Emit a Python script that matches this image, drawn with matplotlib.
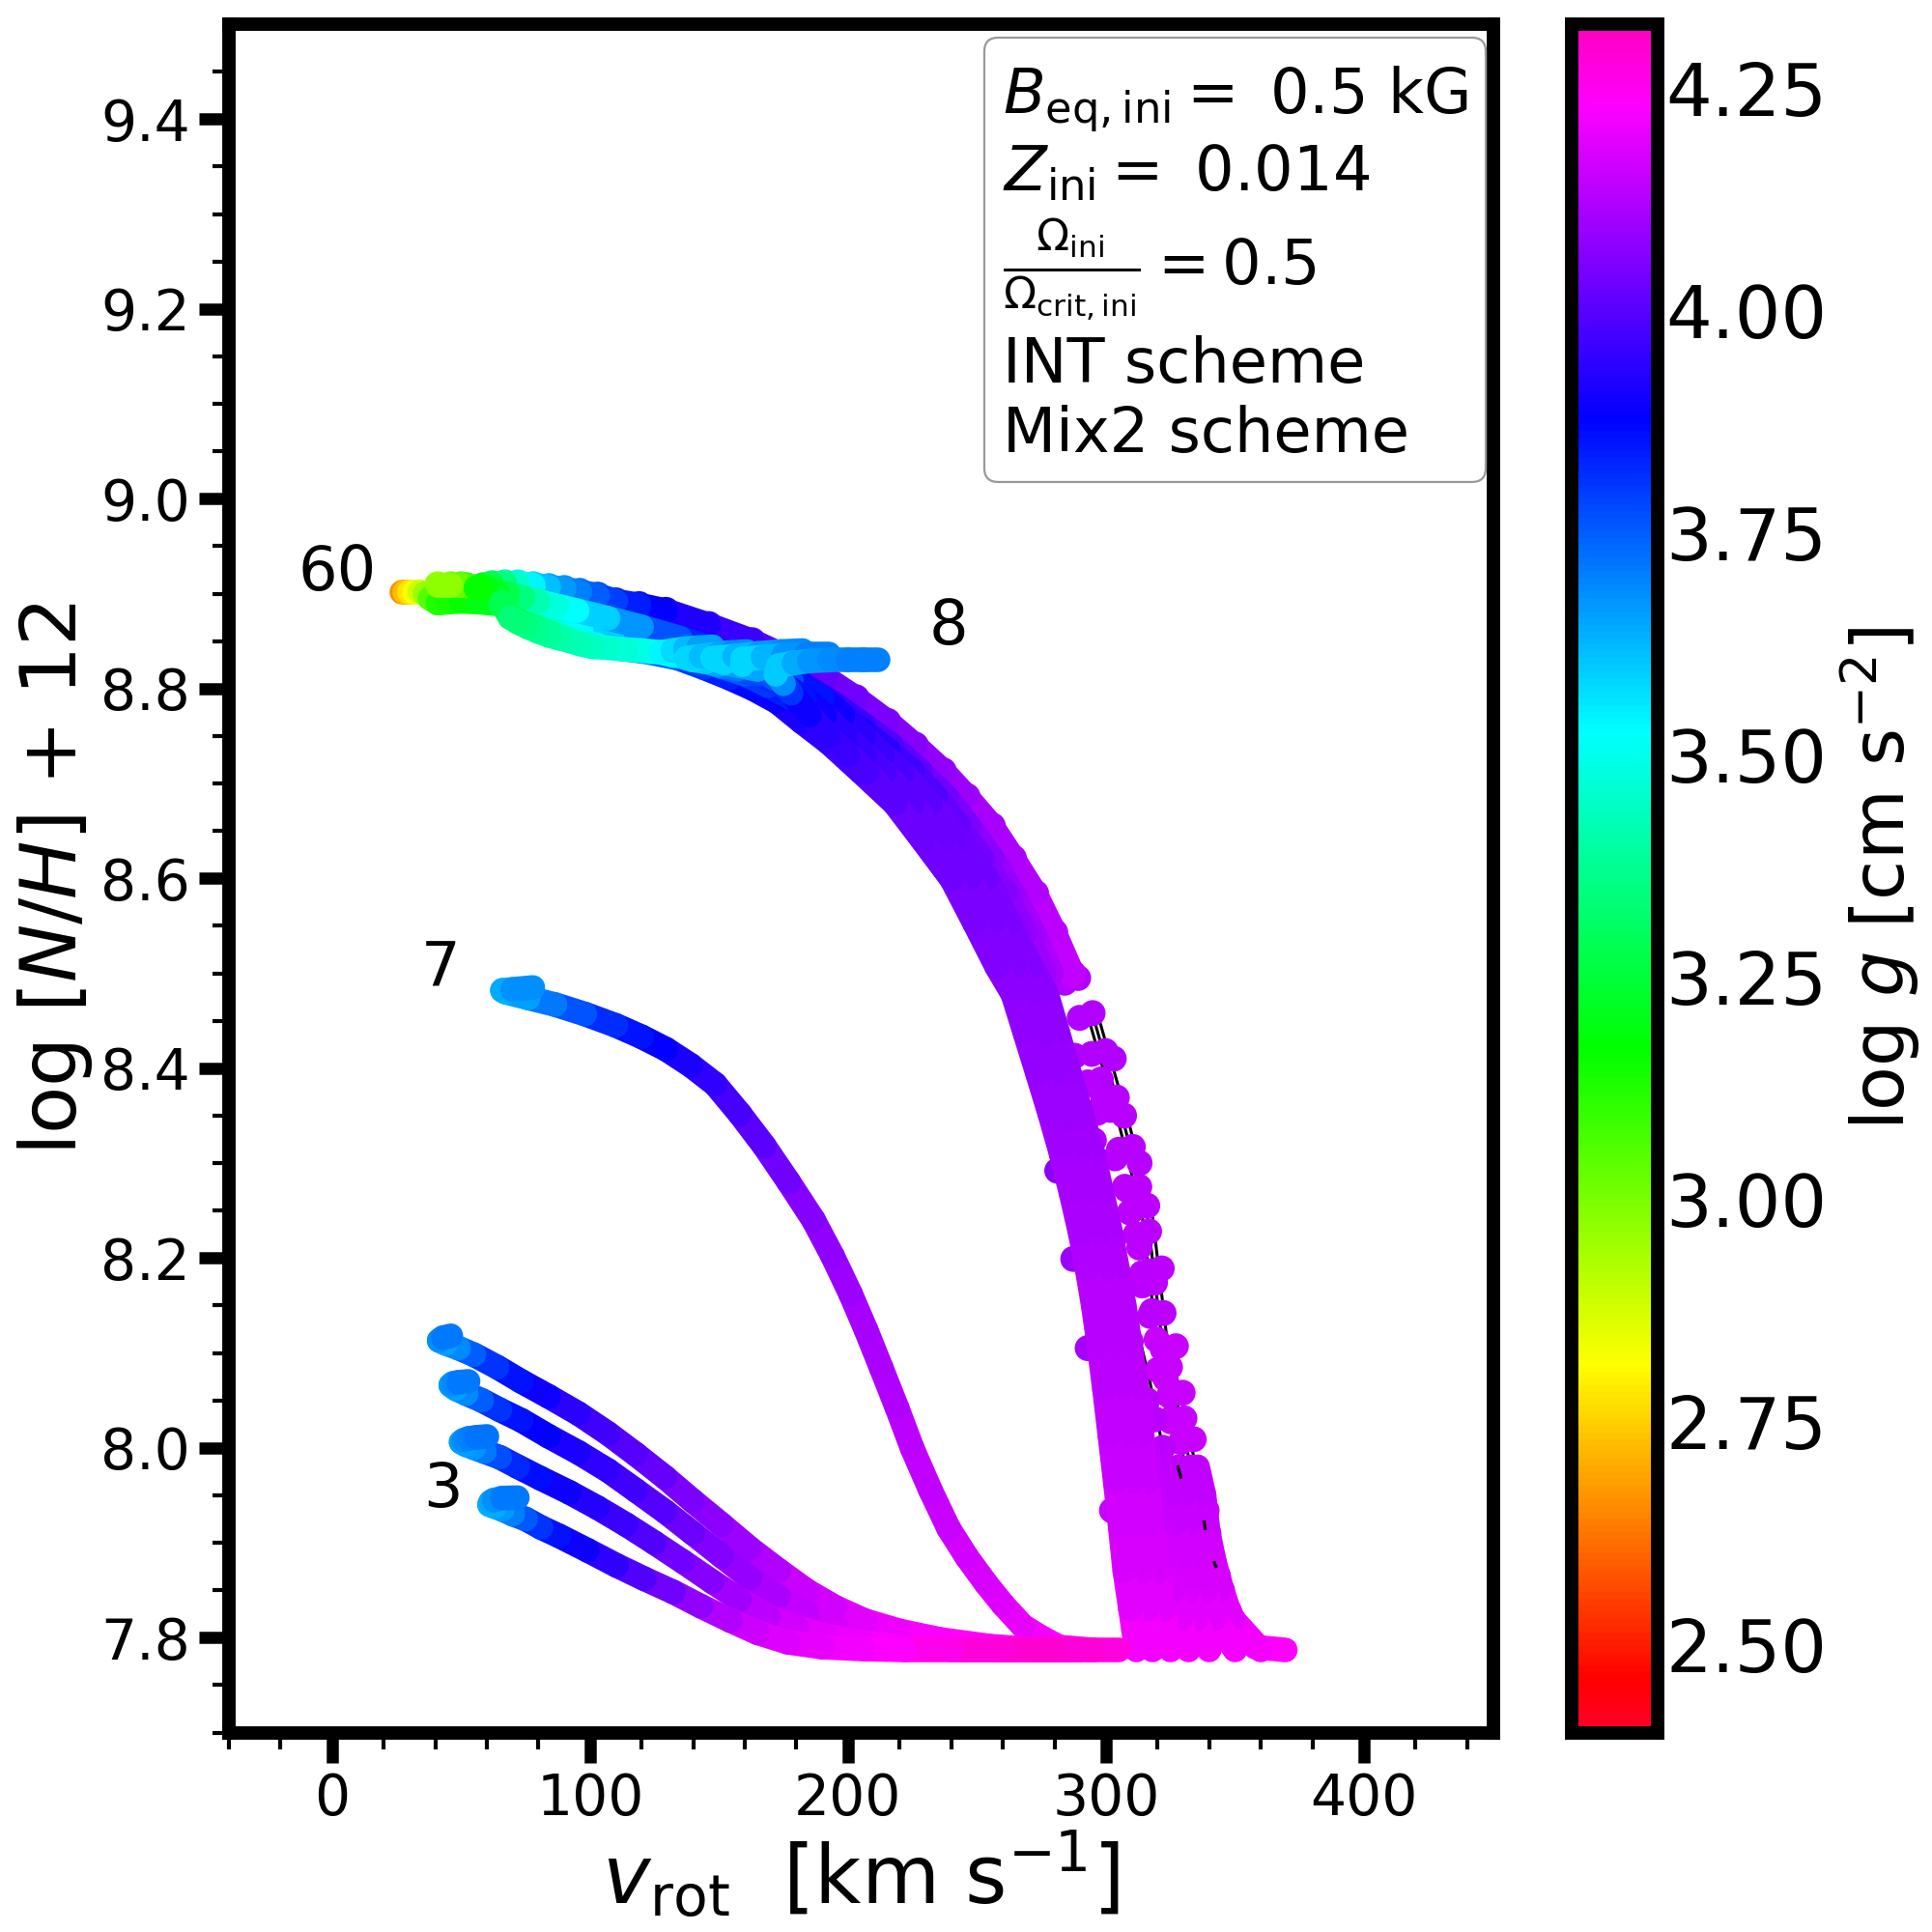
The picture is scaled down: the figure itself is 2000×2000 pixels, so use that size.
import numpy as np
import matplotlib
matplotlib.use("Agg")
import matplotlib.pyplot as plt
from matplotlib.collections import LineCollection
from matplotlib.colors import Normalize
from matplotlib.cm import ScalarMappable
from matplotlib.patches import FancyBboxPatch

# tracks: vrot [km/s], log N/H + 12, log g
v60 = [272,265,257,249,240,231,221,210,199,188,176,162,148,133,118,106,95,86,78,71,65,57,50,45,41,38,36,34,32,30,28,27]
n60 = [8.5,8.543,8.584,8.621,8.655,8.686,8.713,8.74,8.762,8.785,8.805,8.822,8.835,8.845,8.855,8.864,8.872,8.877,8.882,8.886,8.889,8.891,8.892,8.891,8.89,8.895,8.9,8.902,8.902,8.902,8.902,8.902]
g60 = [4.1,4.09,4.08,4.06,4.04,4.02,4.0,3.97,3.94,3.91,3.88,3.84,3.8,3.72,3.62,3.56,3.5,3.43,3.35,3.28,3.22,3.18,3.15,3.13,3.12,3.0,2.92,2.85,2.8,2.76,2.7,2.62]

v50 = [286.9,280,272.6,264,255.8,246,236.8,226,215.3,203,191.4,177,162.8,146,129.4,119,110,103,96,90,84,78,72,67,62,58.5,55.7,52,50,46,41]
n50 = [8.5,8.543,8.584,8.621,8.655,8.686,8.713,8.74,8.765,8.79,8.811,8.832,8.85,8.867,8.882,8.888,8.892,8.898,8.902,8.905,8.907,8.909,8.911,8.911,8.91,8.908,8.906,8.908,8.909,8.909,8.909]
g50 = [4.15,4.14,4.13,4.12,4.11,4.1,4.08,4.07,4.06,4.04,4.03,4.01,3.98,3.94,3.9,3.86,3.82,3.77,3.72,3.68,3.65,3.58,3.5,3.4,3.3,3.22,3.15,3.1,3.05,3.0,2.95]

v40 = [279,272,264,256,247,238,228,217,206,194,182,166,150,135,120,107,95,87,80,74,68,64,60,57.5,55.7]
n40 = [8.5,8.543,8.584,8.621,8.655,8.686,8.713,8.74,8.762,8.785,8.805,8.825,8.84,8.853,8.865,8.874,8.882,8.887,8.892,8.896,8.9,8.902,8.905,8.905,8.906]
g40 = [4.12,4.11,4.09,4.08,4.06,4.04,4.02,4.0,3.97,3.95,3.92,3.9,3.86,3.8,3.72,3.63,3.55,3.5,3.45,3.38,3.3,3.25,3.2,3.17,3.16]

v30 = [240,229,218,205,192.5,182,172.5,163,154,144,134,123,112,103,95,90,85,80,75,72,69,67,65.7]
n30 = [8.6,8.64,8.679,8.712,8.743,8.765,8.786,8.8,8.811,8.822,8.832,8.838,8.842,8.846,8.85,8.854,8.858,8.863,8.868,8.872,8.875,8.884,8.891]
g30 = [4.04,4.03,4.02,3.99,3.96,3.93,3.9,3.88,3.86,3.82,3.78,3.72,3.65,3.58,3.5,3.45,3.4,3.35,3.3,3.27,3.25,3.27,3.3]

v20 = [127.5,120,114.1,107,100.8,96,92.4,88,84.1,80,75.7,72,69]
n20 = [8.838,8.84,8.841,8.843,8.844,8.847,8.85,8.853,8.856,8.86,8.865,8.87,8.875]
g20 = [3.52,3.5,3.48,3.46,3.45,3.43,3.42,3.41,3.4,3.38,3.36,3.34,3.33]

v15 = [269,262,255,245.5,236,227,218,208.5,199,188.5,178,169,160,151,143,137,132,127.5,132,137,142,147.5]
n15 = [8.5,8.543,8.584,8.621,8.655,8.686,8.713,8.735,8.755,8.773,8.79,8.803,8.815,8.823,8.83,8.833,8.835,8.838,8.84,8.842,8.843,8.844]
g15 = [4.08,4.07,4.05,4.03,4.01,3.99,3.97,3.94,3.91,3.88,3.85,3.82,3.78,3.73,3.66,3.6,3.56,3.52,3.55,3.6,3.64,3.68]

v12 = [276,268.5,261,252,243,234,225,215.5,206,195.5,185,175,165,157,150,145,140,137.5,143,150,155,160.8]
n12 = [8.5,8.543,8.584,8.621,8.655,8.686,8.713,8.735,8.755,8.773,8.79,8.803,8.815,8.82,8.825,8.828,8.83,8.832,8.834,8.837,8.838,8.839]
g12 = [4.1,4.08,4.07,4.05,4.03,4.0,3.98,3.95,3.92,3.89,3.86,3.83,3.8,3.75,3.68,3.62,3.58,3.56,3.6,3.64,3.67,3.7]

v10 = [325,322.5,320,318,316,314,312,309.5,307,304.5,302,298.5,295,290.5,286,281.5,277,271,262.5,254,243,232,221,213.5,206,198,190,178,165,152,147.5,156,165,174,182.4]
n10 = [7.787,7.83,7.87,7.917,7.964,8.013,8.062,8.107,8.151,8.188,8.225,8.268,8.31,8.352,8.393,8.436,8.478,8.507,8.553,8.6,8.64,8.679,8.712,8.73,8.75,8.772,8.79,8.808,8.82,8.827,8.832,8.834,8.837,8.839,8.84]
g10 = [4.23,4.2,4.18,4.17,4.16,4.15,4.14,4.135,4.13,4.125,4.12,4.11,4.1,4.095,4.09,4.08,4.07,4.065,4.05,4.04,4.03,4.02,3.99,3.97,3.95,3.92,3.88,3.82,3.72,3.6,3.56,3.6,3.65,3.68,3.7]

v9 = [318,316,314,312,310,308,306,304,302,299.5,297,293.5,289.5,285,280.5,276,271,264.5,256,247,236,225,214,206.5,199,191,183,172,165,159,159.1,167,175,184,192.5]
n9 = [7.787,7.83,7.87,7.917,7.964,8.013,8.062,8.107,8.151,8.188,8.225,8.268,8.31,8.352,8.393,8.436,8.478,8.507,8.553,8.6,8.64,8.679,8.712,8.73,8.75,8.772,8.79,8.81,8.82,8.825,8.831,8.833,8.835,8.836,8.836]
g9 = [4.23,4.2,4.18,4.17,4.16,4.15,4.14,4.135,4.13,4.125,4.12,4.11,4.1,4.095,4.09,4.08,4.07,4.065,4.05,4.04,4.03,4.02,3.99,3.97,3.95,3.92,3.88,3.82,3.7,3.6,3.56,3.6,3.66,3.69,3.71]

v8 = [311.8,309.5,307.3,305.5,303.6,301.5,299.4,297.3,295,292.7,290.1,286.5,282.6,278.2,273.6,268.7,263.9,257.6,249,240,229,218.3,207.5,200,192.5,185,178,175,172,173,179,185,193,200,206,211.6]
n8 = [7.787,7.83,7.87,7.917,7.964,8.013,8.062,8.107,8.151,8.188,8.225,8.268,8.31,8.352,8.393,8.436,8.478,8.507,8.553,8.6,8.64,8.679,8.712,8.73,8.75,8.772,8.795,8.805,8.815,8.824,8.827,8.829,8.83,8.83,8.83,8.83]
g8 = [4.23,4.2,4.18,4.17,4.16,4.15,4.14,4.135,4.13,4.125,4.12,4.11,4.1,4.095,4.09,4.08,4.07,4.065,4.05,4.04,4.03,4.02,3.99,3.97,3.95,3.92,3.87,3.75,3.62,3.57,3.62,3.66,3.68,3.7,3.7,3.71]

v7 = [305,295,282,275,267.8,260,253.5,246,239,232,224.8,219,212.9,207,201,194,186.6,177,167.5,158,148.5,139,129.4,120,110,98,86.4,76,67.3,66,70,77.8]
n7 = [7.787,7.787,7.79,7.8,7.812,7.835,7.857,7.885,7.915,7.955,8.0,8.042,8.084,8.124,8.162,8.202,8.24,8.28,8.318,8.352,8.383,8.403,8.42,8.433,8.445,8.457,8.467,8.474,8.48,8.482,8.483,8.485]
g7 = [4.28,4.27,4.25,4.22,4.2,4.19,4.18,4.17,4.16,4.15,4.14,4.13,4.12,4.11,4.1,4.09,4.07,4.05,4.02,3.99,3.96,3.93,3.9,3.87,3.84,3.79,3.74,3.68,3.63,3.63,3.66,3.7]

v6 = [295,285,275,255,235.9,220,206.4,195,184.2,173,161.9,151,139.8,129,117.8,107,95.5,84,73.3,64,55,49,44,41.5,43,46]
n6 = [7.787,7.787,7.787,7.791,7.798,7.807,7.818,7.832,7.849,7.871,7.894,7.919,7.944,7.969,7.993,8.015,8.036,8.054,8.07,8.085,8.098,8.105,8.11,8.113,8.116,8.118]
g6 = [4.29,4.28,4.26,4.24,4.23,4.21,4.2,4.18,4.16,4.14,4.11,4.08,4.06,4.03,4.01,3.98,3.95,3.92,3.88,3.83,3.78,3.72,3.66,3.66,3.7,3.72]

v5 = [290,275,260,235.9,220,206.4,195,184.2,173,161.9,151,139.8,129,117.8,107,95.5,84,73.3,65,58,52,48,46,47,49,52.7]
n5 = [7.787,7.787,7.787,7.792,7.797,7.803,7.813,7.825,7.843,7.863,7.886,7.91,7.933,7.955,7.976,7.995,8.012,8.029,8.04,8.05,8.057,8.062,8.066,8.068,8.069,8.07]
g5 = [4.29,4.27,4.26,4.23,4.21,4.2,4.18,4.16,4.13,4.1,4.07,4.04,4.01,3.98,3.95,3.93,3.9,3.87,3.83,3.78,3.72,3.66,3.66,3.68,3.7,3.72]

v4 = [285,265,245,221,206,191.4,180,169.4,158,147.3,136,124.9,114,102.8,92,80.7,72,65,59,55,52,50,51,53,56,60]
n4 = [7.787,7.787,7.787,7.79,7.795,7.802,7.811,7.822,7.84,7.859,7.88,7.9,7.919,7.937,7.953,7.968,7.98,7.99,7.996,8.0,8.003,8.006,8.008,8.01,8.011,8.012]
g4 = [4.29,4.27,4.25,4.23,4.21,4.2,4.18,4.16,4.12,4.08,4.05,4.01,3.97,3.94,3.91,3.88,3.84,3.8,3.74,3.68,3.66,3.65,3.67,3.7,3.71,3.72]

v3 = [280,260,240,222,206,190,176.8,165,154.4,143,132.3,121,110.3,99,88.1,81,75,70,66,63,61,61.5,62.8,66,71.8]
n3 = [7.787,7.787,7.787,7.787,7.788,7.79,7.795,7.805,7.818,7.833,7.848,7.862,7.876,7.892,7.907,7.916,7.925,7.93,7.935,7.938,7.94,7.943,7.945,7.947,7.9475]
g3 = [4.3,4.29,4.27,4.24,4.22,4.2,4.19,4.17,4.15,4.1,4.05,4.01,3.97,3.92,3.88,3.83,3.78,3.73,3.68,3.65,3.63,3.64,3.66,3.7,3.72]

# lower fill between the solid band and the bead chain
nl = [7.787,7.82,7.85,7.885,7.92,7.95,7.98]
gl = [4.22,4.2,4.18,4.17,4.16,4.15,4.14]
vl1 = [332,329,326,323,320,318,316]
vl2 = [340,335,332,329.5,327,325,322]
vl3 = [350,342,338.5,335,332,330,328]
vl4 = [360,349,344,340,337,335,333]
vl5 = [369.5,358,352,347.7,345,342,339.7,338,335.5]
nl5 = [7.787,7.79,7.806,7.828,7.85,7.88,7.91,7.95,7.98]
gl5 = [4.23,4.23,4.22,4.21,4.18,4.17,4.16,4.15,4.14]
vl6 = [316,314.5,313]
nl6 = [7.98,8.0,8.02]
gl6 = [4.14,4.14,4.14]

# sparse beads on the right hand edge
vb = [289.2,294.8,299.8,298,304.2,301.7,310.4,312.9,316,316.7,321.6,319,322.3,327.1,324.8,329.7,330.4,334,334.6,339,339.7,339.7,343.4,345,347.7,351.4,
      287.9,297.2,295.3,303.5,307.3,309.2,312.9,314,317.8,319.6,323,325.3,
      281.1,287.3,292.9,302.3,302.8,
      284,289.8,294.5,293,299,296.7,305,308,311,311.5,316.5,314,317,322,320,324.5,325,329,329.5,
      275.9,283.4,298.3,305.8,309.6,316,319,322,
      303,307,313]
nb = [8.495,8.458,8.418,8.388,8.369,8.356,8.317,8.275,8.255,8.228,8.189,8.174,8.142,8.107,8.085,8.058,8.031,8.009,7.971,7.934,7.91,7.895,7.865,7.85,7.828,7.806,
      8.413,8.379,8.324,8.305,8.275,8.248,8.211,8.184,8.144,8.114,8.073,8.031,
      8.292,8.199,8.105,7.934,8.218,
      8.49,8.453,8.415,8.385,8.366,8.353,8.314,8.272,8.252,8.225,8.186,8.171,8.139,8.104,8.082,8.055,8.028,8.006,7.968,
      8.423,8.354,8.216,8.151,8.112,8.05,8.03,8.0,
      8.41,8.35,8.3]
gb = [4.12,4.12,4.12,4.13,4.13,4.13,4.13,4.14,4.14,4.14,4.14,4.14,4.14,4.15,4.15,4.15,4.15,4.15,4.16,4.16,4.16,4.17,4.17,4.18,4.19,4.2,
      4.12,4.12,4.13,4.13,4.13,4.14,4.14,4.14,4.14,4.15,4.15,4.15,
      4.07,4.09,4.11,4.15,4.1,
      4.12,4.12,4.12,4.13,4.13,4.13,4.13,4.14,4.14,4.14,4.14,4.14,4.14,4.15,4.15,4.15,4.15,4.15,4.16,
      4.09,4.1,4.12,4.13,4.14,4.14,4.14,4.14,
      4.12,4.13,4.13]

# thin black lines under the beads
vk1 = [276.6,288.6,300.4,310,317,322]
nk1 = [8.507,8.393,8.251,8.15,8.07,8.0]
vk2 = [293.7,305.2,314,319.3,325.3,330.5,338]
nk2 = [8.448,8.339,8.245,8.122,8.052,7.984,7.919]
vk3 = [295.7,307.2,316,321.3,327.3,332.5,340]
nk3 = [8.448,8.339,8.245,8.122,8.052,7.984,7.919]
vk4 = [297.7,309.2,318,323.3,329.3,334.5,342]
nk4 = [8.448,8.339,8.245,8.122,8.052,7.984,7.919]
# short black bits showing on top of the fill
vk5 = [327.9,329]
nk5 = [7.98,7.969]
vk6 = [338,338.4]
nk6 = [7.922,7.915]
vk7 = [342,342.6]
nk7 = [7.879,7.875]

label_txt = ["60", "8", "7", "3"]
label_v = [2, 239, 42, 43]
label_n = [8.89, 8.833, 8.473, 7.924]

yticks = [7.8, 8.0, 8.2, 8.4, 8.6, 8.8, 9.0, 9.2, 9.4]
xticks = [0, 100, 200, 300, 400]
cticks = [2.5, 2.75, 3.0, 3.25, 3.5, 3.75, 4.0, 4.25]

fig = plt.figure(figsize=(10, 10), dpi=200)
ax = fig.add_axes([237/2000, 1 - 1793.5/2000, (1545.5-237)/2000, (1793.5-25)/2000])
cax = fig.add_axes([1627/2000, 1 - 1793.5/2000, (1716-1627)/2000, (1793.5-25)/2000])

norm = Normalize(2.4006, 4.322)
cmap = plt.get_cmap("gist_rainbow")
width = 9.2


def draw_track(vv, nn, gg, beads=False, reverse=False):
    pts = np.column_stack([vv, nn])
    segs = np.stack([pts[:-1], pts[1:]], axis=1)
    gg = np.asarray(gg)
    cols = (gg[:-1] + gg[1:]) / 2
    if reverse:
        segs = segs[::-1]
        cols = cols[::-1]
    lc = LineCollection(segs, cmap=cmap, norm=norm, linewidths=width, capstyle="round")
    lc.set_array(cols)
    ax.add_collection(lc)
    if beads:
        ax.scatter(vv, nn, c=gg, cmap=cmap, norm=norm, s=(1.12 * width)**2, linewidths=0)


for vk, nk in [(vk1, nk1), (vk2, nk2), (vk3, nk3), (vk4, nk4)]:
    ax.plot(vk, nk, color="k", lw=1.1, zorder=1)

ax.scatter(vb, nb, c=gb, cmap=cmap, norm=norm, s=(1.05 * width)**2, linewidths=0)

draw_track(vl5, nl5, gl5)
draw_track(vl4, nl, gl)
draw_track(vl3, nl, gl)
draw_track(vl2, nl, gl)
draw_track(vl1, nl, gl)
draw_track(vl6, nl6, gl6)
draw_track(v60, n60, g60, reverse=True)
draw_track(v50, n50, g50, beads=True)
draw_track(v40, n40, g40)
draw_track(v30, n30, g30)
draw_track(v20, n20, g20)
draw_track(v15, n15, g15)
draw_track(v12, n12, g12)
draw_track(v10, n10, g10)
draw_track(v9, n9, g9)
draw_track(v8, n8, g8)
draw_track(v7, n7, g7)
draw_track(v6, n6, g6)
draw_track(v5, n5, g5)
draw_track(v4, n4, g4)
draw_track(v3, n3, g3)

for vk, nk in [(vk5, nk5), (vk6, nk6), (vk7, nk7)]:
    ax.plot(vk, nk, color="k", lw=1.1, zorder=3)

for txt, tv, tn in zip(label_txt, label_v, label_n):
    ax.text(tv, tn, txt, fontsize=23, ha="center", va="bottom")

ax.set_xlim(-40, 450)
ax.set_ylim(7.7, 9.5)
ax.set_xticks(xticks)
ax.set_yticks(yticks)
ax.set_yticks(np.arange(7.7, 9.5, 0.05), minor=True)
ax.set_xticks(np.arange(-40, 450, 20), minor=True)
ax.tick_params(which="major", length=11, width=4.5, labelsize=21)
ax.tick_params(which="minor", length=6, width=1.5)
for s in ax.spines.values():
    s.set_linewidth(5)
ax.set_xlabel(r"$v_{\mathrm{rot}}$  [km s$^{-1}$]", fontsize=30, labelpad=1)
ax.set_ylabel(r"log [$N/H$] + 12", fontsize=29, labelpad=2)

box = FancyBboxPatch((0.5976, 0.732), 0.3967, 0.2601, boxstyle="round,pad=0,rounding_size=0.011",
                     transform=ax.transAxes, mutation_aspect=1308.5/1768.5, fc="white", ec="0.6", lw=0.8, zorder=5)
ax.add_patch(box)
tx = 0.6125
ax.text(tx, 0.9475, r"$B_{\mathrm{eq,ini}} =$ 0.5 kG", transform=ax.transAxes, fontsize=23, va="baseline", zorder=6)
ax.text(tx, 0.9025, r"$Z_{\mathrm{ini}} =$ 0.014", transform=ax.transAxes, fontsize=23, va="baseline", zorder=6)
ax.text(tx, 0.8465, r"$\frac{\Omega_{\mathrm{ini}}}{\Omega_{\mathrm{crit,ini}}} = 0.5$", transform=ax.transAxes, fontsize=23, va="baseline", zorder=6)
ax.text(tx, 0.7905, "INT scheme", transform=ax.transAxes, fontsize=23, va="baseline", zorder=6)
ax.text(tx, 0.7495, "Mix2 scheme", transform=ax.transAxes, fontsize=23, va="baseline", zorder=6)

sm = ScalarMappable(norm=norm, cmap=cmap)
cb = fig.colorbar(sm, cax=cax, ticks=cticks)
cb.outline.set_linewidth(5)
cb.ax.tick_params(length=0, labelsize=27, pad=3)
cb.ax.set_yticklabels(["2.50", "2.75", "3.00", "3.25", "3.50", "3.75", "4.00", "4.25"])
cb.set_label(r"log $g$ [cm s$^{-2}$]", fontsize=27, labelpad=4)

fig.savefig("out.png", dpi=200)
